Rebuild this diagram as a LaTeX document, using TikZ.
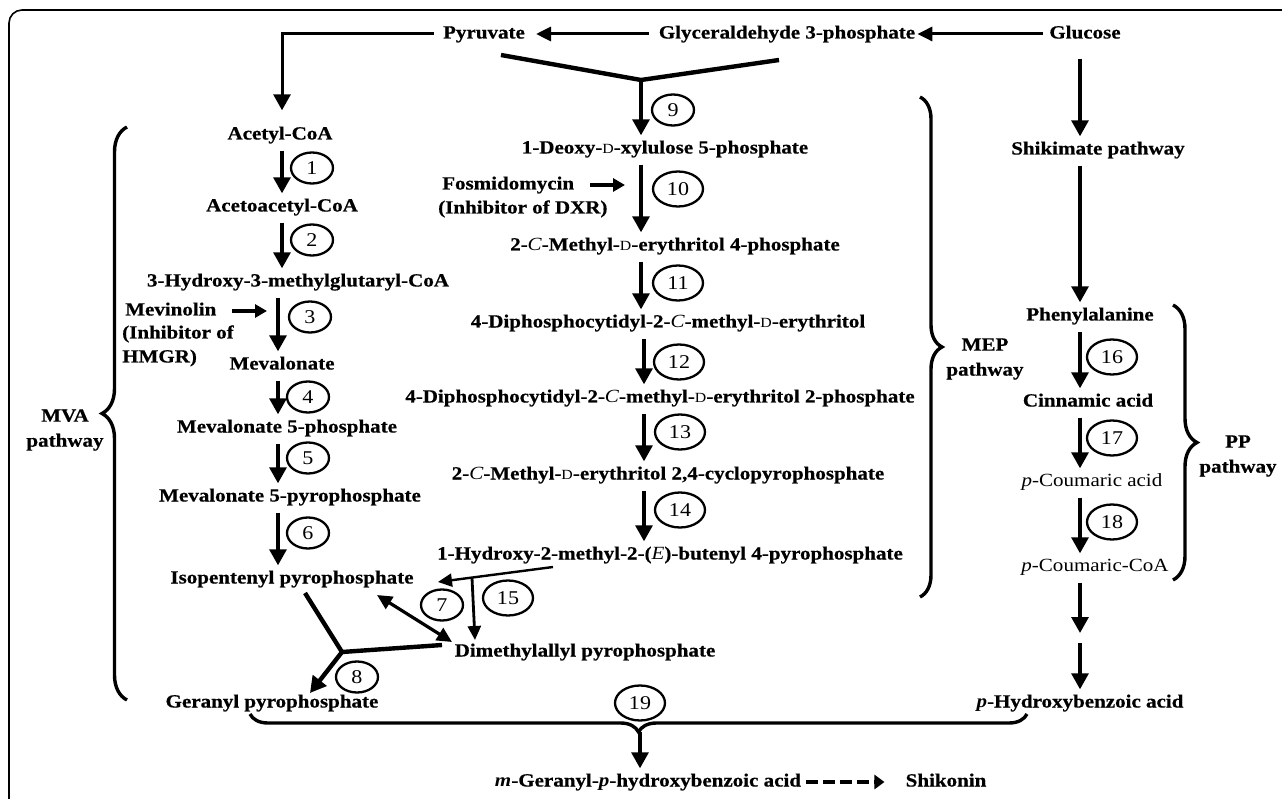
\documentclass[tikz,border=0pt]{standalone}
\usepackage{fontspec}
\setmainfont{Liberation Serif}[FakeStretch=1.13, BoldFeatures={FakeBold=0.6}]
\usetikzlibrary{arrows.meta,shapes.geometric,decorations.pathreplacing,calc}
\newcommand{\sD}{{\fontsize{14}{14}\selectfont\mdseries D}}
\newcommand{\iC}{{\mdseries\itshape C}}
\begin{document}
\begin{tikzpicture}[x=1pt,y=-1pt,
  lbl/.style={font=\fontsize{18.6}{22}\selectfont\bfseries, inner sep=2pt, text height=13pt, text depth=4pt},
  lblr/.style={lbl, font=\fontsize{18.6}{22}\selectfont\mdseries},
  plbl/.style={font=\fontsize{18.6}{25}\selectfont\bfseries, align=center, inner sep=0pt},
  num/.style={draw, ellipse, line width=2.3pt, minimum width=42pt, minimum height=31pt, inner sep=0pt, font=\fontsize{19.5}{20}\selectfont},
  numw/.style={num, minimum width=50pt, minimum height=35pt},
  arr/.style={line width=3.2pt, -{Triangle[length=16pt,width=17pt]}, shorten <=5pt, shorten >=3pt},
  harr/.style={line width=3pt, -{Triangle[length=15pt,width=14pt]}},
  inh/.style={line width=3.4pt, -{Triangle[length=12pt,width=13pt]}},
  tarr/.style={line width=2.4pt, -{Triangle[length=14pt,width=13pt]}},
  dbl/.style={line width=3.2pt, {Triangle[length=15pt,width=14pt]}-{Triangle[length=15pt,width=14pt]}},
  thk/.style={line width=4.4pt},
  dsh/.style={line width=4.4pt, dash pattern=on 12pt off 5pt, -{Triangle[length=10pt,width=14pt]}},
  brc/.style={line width=3.4pt, decorate, decoration={brace, amplitude=#1}}
]
\useasboundingbox (0,0) rectangle (1282,799);
\fill[white] (0,0) rectangle (1282,799);
\draw[line width=1.6pt, rounded corners=13pt] (9,830) -- (9,10) -- (1300,10);

% column x coordinates
\coordinate (cA) at (282,0);
\coordinate (cB) at (278,0);
\coordinate (cM) at (641,0);
\coordinate (cM2) at (644,0);
\coordinate (cR) at (1080,0);

% top row
\node[lbl] (pyr) at (484,34) {Pyruvate};
\node[lbl] (g3p) at (787,34) {Glyceraldehyde 3-phosphate};
\node[lbl] (glc) at (1085,34) {Glucose};
\draw[harr, shorten <=8pt, shorten >=9pt] (g3p.west) -- (pyr.east);
\draw[harr, shorten <=4pt] (glc.west) -- (g3p.east);

% MVA pathway
\node[lbl] (acoa) at (280,135) {Acetyl-CoA};
\node[lbl] (aacoa) at (282,207) {Acetoacetyl-CoA};
\node[lbl] (hmg) at (298,282) {3-Hydroxy-3-methylglutaryl-CoA};
\node[lbl] (mev) at (282,365) {Mevalonate};
\node[lbl] (mev5p) at (287,428) {Mevalonate 5-phosphate};
\node[lbl] (mev5pp) at (290,497) {Mevalonate 5-pyrophosphate};
\node[lbl] (ipp) at (292,579) {Isopentenyl pyrophosphate};
\node[lbl] (dmapp) at (585,652) {Dimethylallyl pyrophosphate};
\node[lbl] (gpp) at (272,703) {Geranyl pyrophosphate};

\draw[line width=3pt, -{Triangle[length=16pt,width=17pt]}, shorten <=7pt, shorten >=14pt] (pyr.west) -| (acoa.north -| cA);

\draw[arr] (acoa.south -| cA) -- (aacoa.north -| cA);
\draw[arr] (aacoa.south -| cA) -- (hmg.north -| cA);
\draw[arr] (hmg.south -| cB) -- (mev.north -| cB);
\draw[arr] (mev.south -| cB) -- (mev5p.north -| cB);
\draw[arr] (mev5p.south -| cB) -- (mev5pp.north -| cB);
\draw[arr] (mev5pp.south -| cB) -- (ipp.north -| cB);

\node[num] (c1) at (312,168) {1};
\node[num] (c2) at (312,240) {2};
\node[num] (c3) at (310,317) {3};
\node[num] (c4) at (308,397) {4};
\node[num] (c5) at (308,458) {5};
\node[num] (c6) at (308,533) {6};

\node[lbl, anchor=west] (mv1) at (123,311) {Mevinolin};
\node[lbl, anchor=west] (mv2) at (120,334) {(Inhibitor of};
\node[lbl, anchor=west] (mv3) at (120,358) {HMGR)};
\draw[inh, shorten <=14pt, shorten >=11pt] (mv1.east) -- (mv1.east -| cB);

\node[plbl] (mvalbl) at (65,430) {MVA\\pathway};
\draw[brc=25pt] (127,700) -- (127,127);

% MEP pathway
\node[lbl] (dxp) at (665,149) {1-Deoxy-\sD-xylulose 5-phosphate};
\node[lbl] (mep) at (675,246) {2-\iC-Methyl-\sD-erythritol 4-phosphate};
\node[lbl] (cdpme) at (668,323) {4-Diphosphocytidyl-2-\iC-methyl-\sD-erythritol};
\node[lbl] (cdpmep) at (660,398) {4-Diphosphocytidyl-2-\iC-methyl-\sD-erythritol 2-phosphate};
\node[lbl] (mecpp) at (668,475) {2-\iC-Methyl-\sD-erythritol 2,4-cyclopyrophosphate};
\node[lbl] (hmbpp) at (670,555) {1-Hydroxy-2-methyl-2-({\mdseries\itshape E})-butenyl 4-pyrophosphate};

\coordinate (ya) at (501,55);
\coordinate (yj) at (641,80);
\coordinate (yb) at (779,60);
\draw[thk] (ya) -- (yj) -- (yb);
\draw[arr, shorten <=0pt] (yj) -- (dxp.north -| yj);
\draw[arr] (dxp.south -| cM) -- (mep.north -| cM);
\draw[arr] (mep.south -| cM) -- (cdpme.north -| cM);
\draw[arr] (cdpme.south -| cM2) -- (cdpmep.north -| cM2);
\draw[arr] (cdpmep.south -| cM2) -- (mecpp.north -| cM2);
\draw[arr] (mecpp.south -| cM2) -- (hmbpp.north -| cM2);

\node[num] (c9) at (673,110) {9};
\node[numw] (c10) at (678,189) {10};
\node[numw] (c11) at (678,283) {11};
\node[numw] (c12) at (679,362) {12};
\node[numw] (c13) at (680,432) {13};
\node[numw] (c14) at (680,510) {14};

\node[lbl, anchor=west] (fos1) at (440,185) {Fosmidomycin};
\node[lbl, anchor=west] (fos2) at (436,209) {(Inhibitor of DXR)};
\draw[inh, shorten <=14pt, shorten >=16pt] (fos1.east) -- (fos1.east -| cM);

\node[plbl] (meplbl) at (985,359) {MEP\\pathway};
\draw[brc=22pt] (920,97) -- (920,597);

% IPP / DMAPP / GPP
\coordinate (h1) at (553,567);
\coordinate (h2) at (438,582);
\draw[tarr] (h1) -- (h2);
\coordinate (f1) at (472,578);
\coordinate (f2) at (475,640);
\draw[tarr, line width=2.8pt] (f1) -- (f2);
\node[numw] (c15) at (508,598) {15};
\coordinate (k1) at (377,595);
\coordinate (k2) at (452,642);
\draw[dbl] (k1) -- (k2);
\node[num] (c7) at (442,605) {7};
\coordinate (j0) at (305,593);
\coordinate (j8) at (342,652);
\coordinate (j1) at (442,645);
\coordinate (j2) at (310,693);
\draw[thk] (j0) -- (j8) -- (j1);
\draw[thk, -{Triangle[length=16pt,width=17pt]}] (j8) -- (j2);
\node[num] (c8) at (357,677) {8};

% right column
\node[lbl] (shik) at (1098,150) {Shikimate pathway};
\node[lbl] (phe) at (1090,316) {Phenylalanine};
\node[lbl] (cin) at (1088,402) {Cinnamic acid};
\node[lblr] (pca) at (1092,482) {\textit{p}-Coumaric acid};
\node[lblr] (pcoa) at (1095,567) {\textit{p}-Coumaric-CoA};
\coordinate (mid) at (1080,638);
\node[lbl] (phba) at (1080,703) {\textit{p}-Hydroxybenzoic acid};

\draw[arr, shorten <=14pt] (glc.south -| cR) -- (shik.north -| cR);
\draw[arr] (shik.south -| cR) -- (phe.north -| cR);
\draw[arr] (phe.south -| cR) -- (cin.north -| cR);
\draw[arr] (cin.south -| cR) -- (pca.north -| cR);
\draw[arr] (pca.south -| cR) -- (pcoa.north -| cR);
\draw[arr, shorten >=5pt] (pcoa.south -| cR) -- (mid);
\draw[arr, shorten <=5pt] (mid) -- (phba.north -| cR);

\node[numw] (c16) at (1112,357) {16};
\node[numw] (c17) at (1112,438) {17};
\node[numw] (c18) at (1112,522) {18};

\node[plbl] (pplbl) at (1238,456) {PP\\pathway};
\draw[brc=24pt] (1173,305) -- (1173,580);

% bottom
\draw[brc=18pt] (1027,714) -- (250,714);
\node[numw] (c19) at (640,703) {19};
\coordinate (btip) at (640,732);
\node[lbl] (mgp) at (648,782) {\textit{m}-Geranyl-\textit{p}-hydroxybenzoic acid};
\node[lbl] (shk) at (946,782) {Shikonin};
\draw[arr, shorten <=0pt] (btip) -- (mgp.north -| btip);
\draw[dsh, shorten <=3pt, shorten >=19pt] (mgp.east) -- (shk.west);
\end{tikzpicture}
\end{document}
